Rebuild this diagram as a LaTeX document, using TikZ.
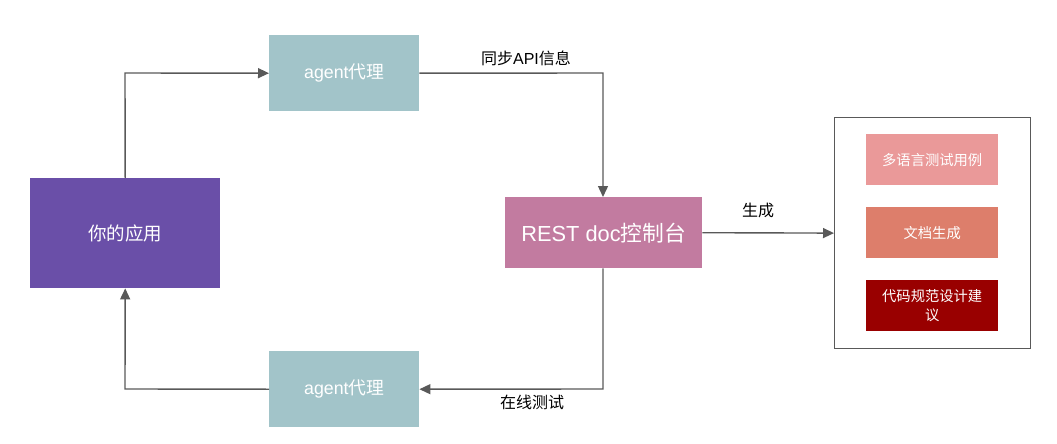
\documentclass[tikz,border=0pt]{standalone}
\usepackage{fontspec}
\setmainfont{Liberation Sans}
\newfontfamily\cjk{Noto Sans CJK SC}
\usetikzlibrary{arrows.meta}
\definecolor{appc}{HTML}{6A4FA8}
\definecolor{agentc}{HTML}{A2C4C9}
\definecolor{restc}{HTML}{C27BA0}
\definecolor{c1}{HTML}{EA9999}
\definecolor{c2}{HTML}{DD7E6B}
\definecolor{c3}{HTML}{990000}
\definecolor{linec}{HTML}{595959}
\tikzset{
  boxn/.style={anchor=north west, inner sep=0pt, text=white, align=center},
  conn/.style={draw=linec, line width=1.4pt, -{Triangle[length=11pt,width=10pt]}},
  lbl/.style={font=\cjk\fontsize{16}{19}\selectfont, text=black}
}
\begin{document}
\begin{tikzpicture}[x=1pt,y=-1pt]
\useasboundingbox (0,0) rectangle (1057,444);
\node[boxn, fill=appc, minimum width=190pt, minimum height=110pt, font=\cjk\fontsize{18.5}{22}\selectfont] (app) at (30,178) {你的应用};
\node[boxn, fill=agentc, minimum width=150pt, minimum height=76pt, font=\fontsize{17.8}{21}\selectfont] (agt) at (269,35) {agent{\cjk 代理}};
\node[boxn, fill=agentc, minimum width=150pt, minimum height=76pt, font=\fontsize{17.8}{21}\selectfont] (agb) at (269,351) {agent{\cjk 代理}};
\node[boxn, fill=restc, minimum width=197pt, minimum height=71pt, font=\fontsize{21.8}{26}\selectfont] (rest) at (505,197) {REST doc{\cjk 控制台}};
\node[boxn, draw=linec, line width=1.2pt, minimum width=196pt, minimum height=231pt] (cont) at (834,117) {};
\node[boxn, fill=c1, minimum width=132pt, minimum height=51pt, font=\cjk\fontsize{14.3}{17}\selectfont] (t1) at (866,134) {多语言测试用例};
\node[boxn, fill=c2, minimum width=132pt, minimum height=51pt, font=\cjk\fontsize{14.3}{17}\selectfont] (t2) at (866,207) {文档生成};
\node[boxn, fill=c3, minimum width=132pt, minimum height=51pt, font=\cjk\fontsize{14.3}{19}\selectfont] (t3) at (866,280) {代码规范设计建\\议};
\draw[conn] (app.north) -- (125,73) -- (agt.west);
\draw[conn] (agt.east) -- (603,73) -- (rest.north -| 603,0);
\draw[conn] (rest.east) -- (cont.west);
\draw[conn] (rest.south -| 603,0) -- (603,389) -- (agb.east);
\draw[conn] (agb.west) -- (125,389) -- (app.south);
\node[lbl] (l1) at (526,58) {同步\textrm{API}信息};
\node[lbl] (l2) at (758,210) {生成};
\node[lbl] (l3) at (532,402) {在线测试};
\end{tikzpicture}
\end{document}
